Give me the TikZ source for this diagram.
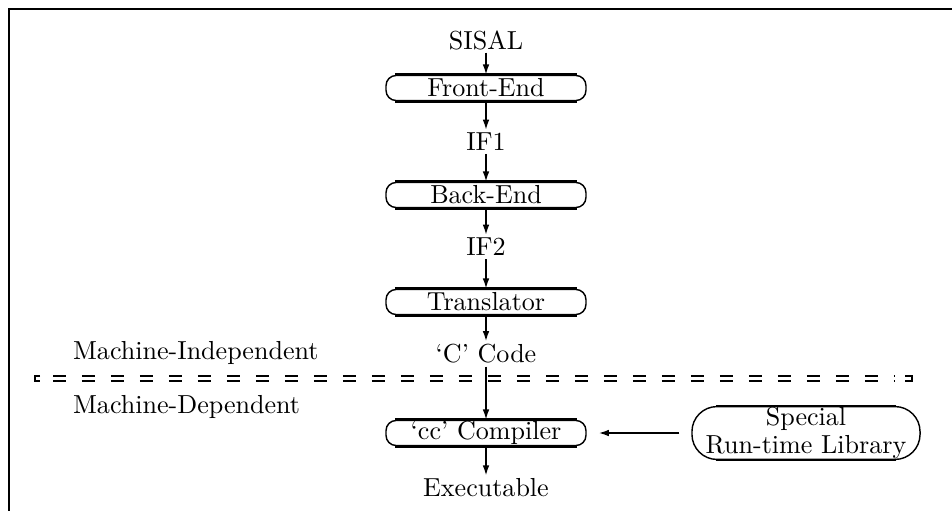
\documentclass[tikz,border=0pt]{standalone}
\usetikzlibrary{arrows.meta}
\begin{document}
\begin{tikzpicture}[x=0.3876pt,y=-0.3876pt,
  lbl/.style={inner sep=1pt, font=\fontsize{10.1}{12}\selectfont},
  procbox/.style={minimum width=77.5pt, minimum height=9.7pt, inner sep=0pt, draw, line width=0.55pt, rounded corners=3.9pt, font=\fontsize{10.1}{12}\selectfont},
  thickedge/.style={line width=1pt},
  flow/.style={line width=0.7pt, -{Latex[length=4pt,width=2.6pt]}},
  sepline/.style={line width=0.75pt}
]
\useasboundingbox (0,0) rectangle (952,510);
% frame
\draw[line width=0.8pt] (9,520) -- (9,9) -- (960,9);

% flow nodes
\node[lbl] (sisal) at (486,40) {SISAL};
\node[procbox] (fe) at (486,88) {Front-End};
\node[lbl] (if1) at (486,142) {IF1};
\node[procbox] (be) at (486,195) {Back-End};
\node[lbl] (if2) at (486,247) {IF2};
\node[procbox] (tr) at (486,302) {Translator};
\node[lbl] (cc0) at (486,354) {`C' Code};
\node[procbox] (cc) at (486,433) {`cc' Compiler};
\node[lbl] (exe) at (486,488) {Executable};
\node[procbox, minimum width=88.4pt, minimum height=20.5pt, rounded corners=9.7pt, align=center, font=\fontsize{10.1}{10.5}\selectfont] (lib) at (806,433) {Special\\Run-time Library};

\foreach \n in {fe,be,tr,cc} {
  \draw[thickedge] ([xshift=3.9pt]\n.north west) -- ([xshift=-3.9pt]\n.north east);
  \draw[thickedge] ([xshift=3.9pt]\n.south west) -- ([xshift=-3.9pt]\n.south east);
}
\draw[thickedge] ([xshift=9.7pt]lib.north west) -- ([xshift=-9.7pt]lib.north east);
\draw[thickedge] ([xshift=9.7pt]lib.south west) -- ([xshift=-9.7pt]lib.south east);

% labels
\node[lbl, anchor=west] (mi) at (70,353) {Machine-Independent};
\node[lbl, anchor=west] (md) at (70,407) {Machine-Dependent};

% separator
\coordinate (sl) at (35,378);
\coordinate (sr) at (912,378);
\draw[sepline, dash pattern=on 5pt off 6.24pt] (53,376) -- (895,376);
\draw[sepline, dash pattern=on 5pt off 6.24pt] (53,381) -- (895,381);
\draw[sepline] (40,376) -- (35,376) -- (35,381) -- (40,381);
\draw[sepline] (905,376) -- (912,376) -- (912,381) -- (905,381);

% connectors
\draw[flow] (sisal) -- (fe);
\draw[flow] (fe) -- (if1);
\draw[flow] (if1) -- (be);
\draw[flow] (be) -- (if2);
\draw[flow] (if2) -- (tr);
\draw[flow] (tr) -- (cc0);
\draw[flow] (cc0) -- (cc);
\draw[flow] (cc) -- (exe);
\draw[flow, shorten <=4.6pt, shorten >=4.6pt] (lib.west) -- (cc.east);
\end{tikzpicture}
\end{document}
